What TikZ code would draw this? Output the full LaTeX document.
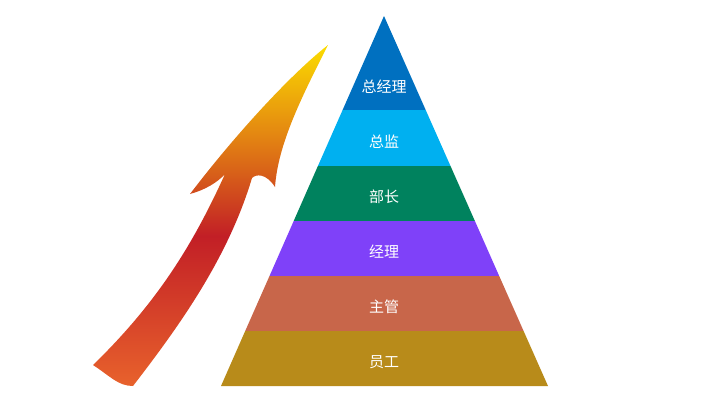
\documentclass[tikz,border=0pt]{standalone}
\usepackage{fontspec}
\newfontfamily\cjk{Noto Sans CJK SC}
\definecolor{lvlA}{HTML}{0070C0}
\definecolor{lvlB}{HTML}{00B0F0}
\definecolor{lvlC}{HTML}{00825E}
\definecolor{lvlD}{HTML}{7F41F9}
\definecolor{lvlE}{HTML}{C8664A}
\definecolor{lvlF}{HTML}{B88B1A}
\definecolor{arrowA}{HTML}{E8622C}
\definecolor{arrowB}{HTML}{C21F26}
\definecolor{arrowC}{HTML}{E07A14}
\definecolor{arrowD}{HTML}{FBDC00}
\pgfdeclareverticalshading{arrowshade}{100bp}{color(0bp)=(arrowA); color(25bp)=(arrowA); color(47bp)=(arrowB); color(60bp)=(arrowC); color(75bp)=(arrowD); color(100bp)=(arrowD)}

\begin{document}
\begin{tikzpicture}[x=1pt,y=-1pt,
  lbl/.style={text=white,font=\cjk\fontsize{15}{18}\selectfont}]
\useasboundingbox (0,0) rectangle (711,400);
\fill[lvlA] (384,16) -- (425.7,110) -- (342.6,110) --cycle ;
\fill[lvlB] (342.6,110) -- (425.7,110) -- (450.5,166) -- (317.9,166) --cycle ;
\fill[lvlC] (317.9,166) -- (450.5,166) -- (474.9,221) -- (293.7,221) --cycle ;
\fill[lvlD] (293.7,221) -- (474.9,221) -- (499.2,276) -- (269.5,276) --cycle ;
\fill[lvlE] (269.5,276) -- (499.2,276) -- (523.6,331) -- (245.2,331) --cycle ;
\fill[lvlF] (245.2,331) -- (523.6,331) -- (548,386) -- (221,386) --cycle ;
\node[lbl] (zjl) at (384,87) {总经理};
\node[lbl] (zj) at (384,142) {总监};
\node[lbl] (bz) at (384,197) {部长};
\node[lbl] (jl) at (384,252) {经理};
\node[lbl] (zg) at (384,307) {主管};
\node[lbl] (yg) at (384,362) {员工};
\shade[shading=arrowshade] (328,45) .. controls (290,75) and (235,135) .. (190,194)
  .. controls (205,190) and (218,182) .. (225,174)
  .. controls (195,240) and (160,300) .. (93,365)
  .. controls (110,376) and (118,386) .. (133,386)
  .. controls (180,325) and (228,258) .. (252,178)
  .. controls (256,174) and (266,173) .. (275,187)
  .. controls (278,145) and (300,100) .. (328,45) --cycle ;
\end{tikzpicture}
\end{document}
